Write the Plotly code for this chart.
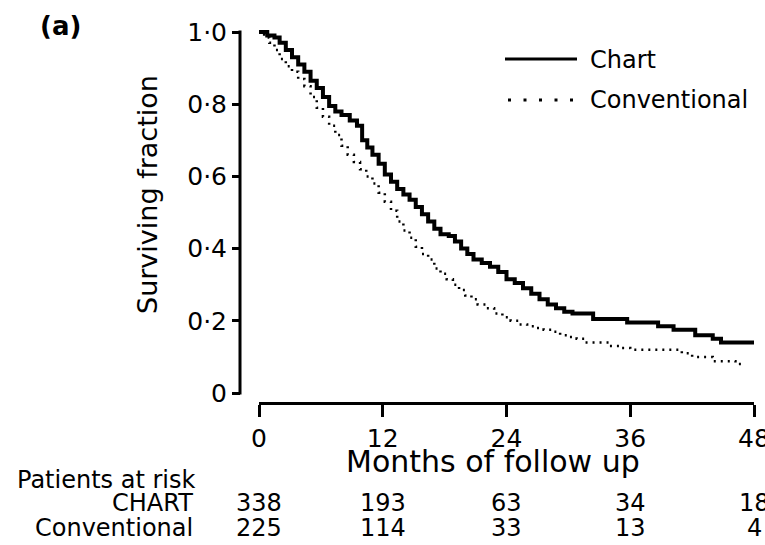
import plotly.graph_objects as go

# Kaplan-Meier estimates (months, surviving fraction)
chart_t = [0, 0.8, 1.5, 2.0, 2.6, 3.2, 3.8, 4.4, 5.0, 5.6, 6.2, 6.8, 7.4, 8.0, 8.8,
           9.5, 10.0, 10.5, 11.0, 11.6, 12.2, 12.8, 13.4, 14.0, 14.6, 15.2, 15.8,
           16.4, 17.0, 17.6, 18.4, 19.0, 19.6, 20.2, 20.8, 21.6, 22.4, 23.2, 24.0,
           24.8, 25.6, 26.4, 27.2, 28.0, 28.8, 29.6, 30.4, 32.4, 35.7, 38.7, 40.2,
           42.3, 44.0, 44.8, 48.0]
chart_s = [1.0, 0.99, 0.985, 0.97, 0.95, 0.93, 0.91, 0.89, 0.865, 0.845, 0.82, 0.795,
           0.78, 0.77, 0.755, 0.74, 0.70, 0.68, 0.66, 0.635, 0.605, 0.585, 0.565,
           0.55, 0.535, 0.515, 0.495, 0.475, 0.455, 0.44, 0.435, 0.42, 0.40, 0.385,
           0.37, 0.36, 0.35, 0.335, 0.315, 0.305, 0.29, 0.275, 0.26, 0.245, 0.235,
           0.225, 0.22, 0.205, 0.195, 0.185, 0.175, 0.16, 0.15, 0.14, 0.14]

conv_t = [0, 0.5, 1.0, 1.5, 2.0, 2.6, 3.2, 3.8, 4.4, 5.0, 5.6, 6.2, 6.8, 7.4, 8.0,
          8.6, 9.2, 9.8, 10.4, 11.0, 11.6, 12.2, 12.8, 13.4, 14.0, 14.6, 15.2, 15.8,
          16.4, 17.0, 17.6, 18.2, 18.8, 19.4, 20.0, 20.6, 21.2, 22.0, 22.8, 23.6,
          24.4, 25.2, 26.0, 26.8, 27.6, 28.4, 29.2, 30.0, 30.8, 31.6, 34.0, 35.2,
          36.0, 41.0, 42.0, 44.0, 46.2, 47.2]
conv_s = [1.0, 0.985, 0.97, 0.95, 0.925, 0.905, 0.89, 0.87, 0.85, 0.82, 0.79, 0.765,
          0.74, 0.715, 0.685, 0.66, 0.64, 0.62, 0.60, 0.58, 0.555, 0.53, 0.505, 0.475,
          0.45, 0.43, 0.405, 0.385, 0.37, 0.345, 0.33, 0.315, 0.30, 0.285, 0.27, 0.26,
          0.245, 0.235, 0.22, 0.21, 0.20, 0.19, 0.185, 0.18, 0.175, 0.17, 0.16, 0.155,
          0.15, 0.14, 0.13, 0.125, 0.12, 0.11, 0.10, 0.088, 0.08, 0.08]

x_ticks = [0, 12, 24, 36, 48]
y_ticks = [0, 0.2, 0.4, 0.6, 0.8, 1.0]
y_ticktext = ["0", "0·2", "0·4", "0·6", "0·8", "1·0"]

risk_groups = ["CHART", "Conventional"]
risk_chart = [338, 193, 63, 34, 18]
risk_conv = [225, 114, 33, 13, 4]

FONT = "DejaVu Sans"
W, H = 765, 545
ML, MR, MT, MB = 240, 5, 28, 142
PW, PH = W - ML - MR, H - MT - MB


def px(xp):
    return (xp - ML) / PW


def py(yp):
    return (H - MB - yp) / PH


fig = go.Figure()
fig.add_trace(go.Scatter(x=chart_t, y=chart_s, mode="lines",
                         line=dict(color="black", width=4, shape="hv"),
                         showlegend=False, name="Chart"))
fig.add_trace(go.Scatter(x=conv_t, y=conv_s, mode="lines",
                         line=dict(color="black", width=2.5, shape="hv", dash="2px,5px"),
                         showlegend=False, name="Conventional"))

zero_y = 393   # pixel row of survival 0
unit = 361     # pixels per unit of survival
y_dom0 = py(zero_y)

fig.update_layout(
    width=W, height=H,
    margin=dict(l=ML, r=MR, t=MT, b=MB, pad=0, autoexpand=False),
    paper_bgcolor="white", plot_bgcolor="white",
    font=dict(family=FONT, color="black", size=24),
    showlegend=False,
    xaxis=dict(range=[0, 48], domain=[px(259), px(754)], anchor="free", position=0,
               tickmode="array", tickvals=x_ticks, automargin=False,
               showline=True, linewidth=3, linecolor="black",
               ticks="outside", ticklen=12, tickwidth=3, tickcolor="black",
               tickfont=dict(size=25), ticklabeloverflow="allow",
               showgrid=False, zeroline=False),
    yaxis=dict(range=[0, (zero_y - MT) / unit], domain=[y_dom0, 1], anchor="free",
               position=0, automargin=False,
               tickmode="array", tickvals=y_ticks, ticktext=y_ticktext,
               showline=False,
               ticks="outside", ticklen=8, tickwidth=3, tickcolor="black",
               tickfont=dict(size=25), showgrid=False, zeroline=False),
)

# y axis spine, running from the 0 tick to the 1·0 tick
fig.add_shape(type="line", xref="paper", yref="paper", x0=0, x1=0,
              y0=py(zero_y) - 1.5 / PH, y1=py(zero_y - unit) + 1.5 / PH,
              line=dict(color="black", width=3))

ann = []
ann.append(dict(text="<b>(a)</b>", x=px(60), y=py(26), xref="paper", yref="paper",
                xanchor="center", yanchor="middle", showarrow=False, font=dict(size=26)))
ann.append(dict(text="Surviving fraction", x=px(147), y=py(195), xref="paper",
                yref="paper", xanchor="center", yanchor="middle", textangle=-90,
                showarrow=False, font=dict(size=27)))
ann.append(dict(text="Months of follow up", x=px(493), y=py(461), xref="paper",
                yref="paper", xanchor="center", yanchor="middle", showarrow=False,
                font=dict(size=30)))

# legend
fig.add_shape(type="line", xref="paper", yref="paper", x0=px(505), x1=px(577),
              y0=py(59), y1=py(59), line=dict(color="black", width=3))
fig.add_shape(type="line", xref="paper", yref="paper", x0=px(508), x1=px(573),
              y0=py(100), y1=py(100), line=dict(color="black", width=3, dash="3px,12.5px"))
ann.append(dict(text="Chart", x=px(588), y=py(60), xref="paper", yref="paper",
                xanchor="left", yanchor="middle", showarrow=False, font=dict(size=24)))
ann.append(dict(text="Conventional", x=px(588), y=py(100), xref="paper", yref="paper",
                xanchor="left", yanchor="middle", showarrow=False, font=dict(size=24)))

# numbers at risk
ann.append(dict(text="Patients at risk", x=px(15), y=py(480), xref="paper", yref="paper",
                xanchor="left", yanchor="middle", showarrow=False, font=dict(size=24)))
for name, counts, yy in zip(risk_groups, [risk_chart, risk_conv], [503, 528]):
    ann.append(dict(text=name, x=px(195), y=py(yy), xref="paper", yref="paper",
                    xanchor="right", yanchor="middle", showarrow=False,
                    font=dict(size=24)))
    for t, n in zip(x_ticks, counts):
        ann.append(dict(text=str(n), x=t, y=py(yy), xref="x", yref="paper",
                        xanchor="center", yanchor="middle", showarrow=False,
                        font=dict(size=24)))

fig.update_layout(annotations=ann)
fig.write_html("out.html")
